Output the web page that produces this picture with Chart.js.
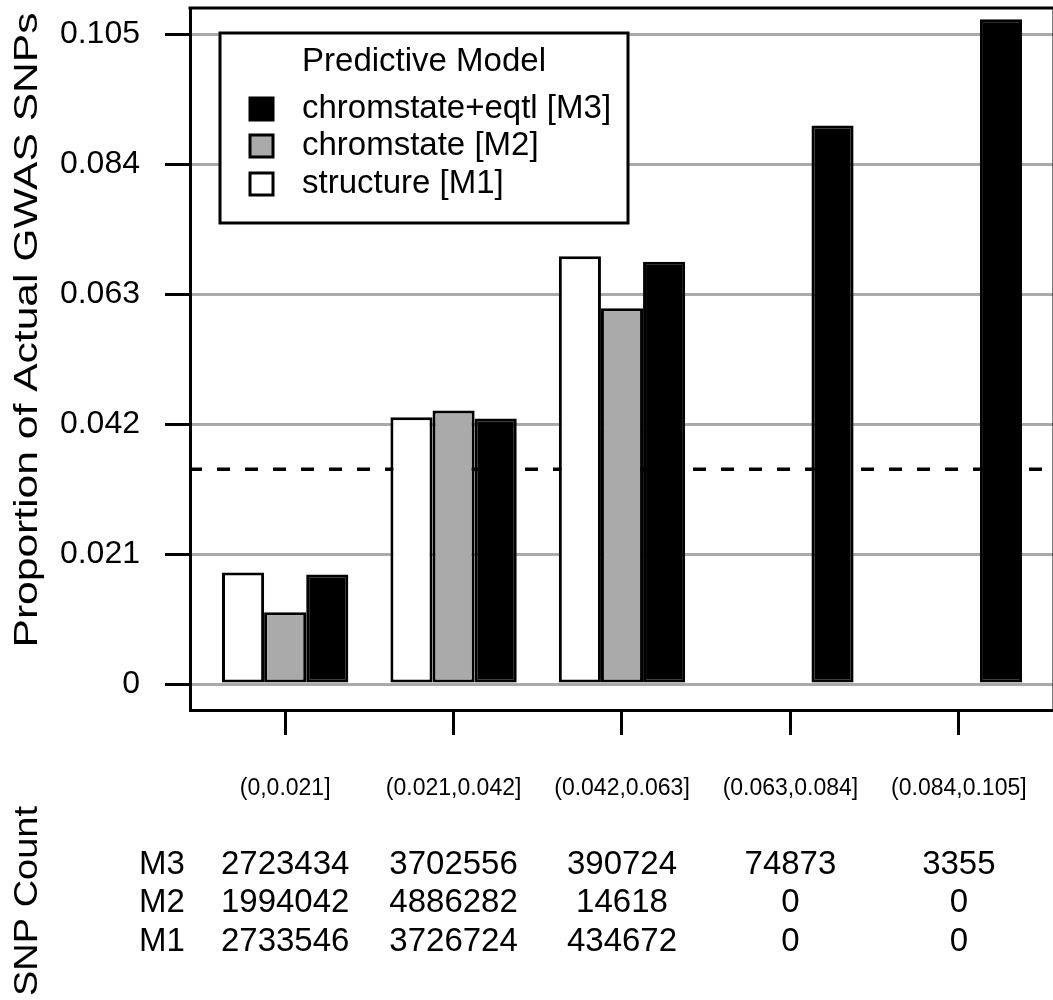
<!DOCTYPE html>
<html>
<head>
<meta charset="utf-8">
<script src="https://cdn.jsdelivr.net/npm/chart.js@4.4.1/dist/chart.umd.min.js"></script>
<style>
html,body{margin:0;padding:0;background:#fff;overflow:hidden;}
#wrap{position:relative;width:1056px;height:1000px;}
</style>
</head>
<body>
<div id="wrap"><canvas id="c" width="1056" height="1000"></canvas></div>
<script>
// ---- data ----
const categories = ['(0,0.021]', '(0.021,0.042]', '(0.042,0.063]', '(0.063,0.084]', '(0.084,0.105]'];
const structureM1 = [0.0180, 0.0431, 0.0691, null, null];
const chromstateM2 = [0.0116, 0.0442, 0.0607, null, null];
const chromEqtlM3 = [0.0177, 0.0429, 0.0682, 0.0902, 0.1074];
const seriesLabels = ['structure [M1]', 'chromstate [M2]', 'chromstate+eqtl [M3]'];
const yTickValues = [0, 0.021, 0.042, 0.063, 0.084, 0.105];
const yTickLabels = ['0', '0.021', '0.042', '0.063', '0.084', '0.105'];
const referenceLine = 0.0347;
const countRowLabels = ['M3', 'M2', 'M1'];
const countsM3 = [2723434, 3702556, 390724, 74873, 3355];
const countsM2 = [1994042, 4886282, 14618, 0, 0];
const countsM1 = [2733546, 3726724, 434672, 0, 0];
const legendTitle = 'Predictive Model';
const yTitle = 'Proportion of Actual GWAS SNPs';
const tableTitle = 'SNP Count';

// ---- styling ----
const FONT = "'Liberation Sans', Arial, Helvetica, sans-serif";
const fills = ['#ffffff', '#aaaaaa', '#000000'];

const toXY = arr => arr.map((v, i) => ({x: i, y: v}));

function drawStretchedVertical(ctx, text, baselineX, centerY, fontPx, targetLen) {
  ctx.save();
  ctx.font = fontPx + 'px ' + FONT;
  const w = ctx.measureText(text).width;
  ctx.translate(baselineX, centerY);
  ctx.rotate(-Math.PI / 2);
  ctx.scale(targetLen / w, 1);
  ctx.textAlign = 'center';
  ctx.textBaseline = 'alphabetic';
  ctx.fillStyle = '#000';
  ctx.fillText(text, 0, 0);
  ctx.restore();
}

const decor = {
  id: 'decor',
  beforeDatasetsDraw(chart) {
    const {ctx, chartArea: a, scales: {y}} = chart;
    const yy = y.getPixelForValue(referenceLine);
    ctx.save();
    ctx.strokeStyle = '#000';
    ctx.lineWidth = 3.5;
    ctx.setLineDash([13, 15]);
    ctx.lineDashOffset = 1;
    ctx.beginPath();
    ctx.moveTo(a.left, yy);
    ctx.lineTo(a.right, yy);
    ctx.stroke();
    ctx.restore();
  },
  afterDatasetsDraw(chart) {
    const {ctx, chartArea: a, scales: {x}} = chart;
    ctx.save();
    // top & right frame
    ctx.strokeStyle = '#000';
    ctx.lineWidth = 3;
    ctx.beginPath();
    ctx.moveTo(a.left - 1.5, a.top);
    ctx.lineTo(a.right, a.top);
    ctx.lineTo(a.right, a.bottom);
    ctx.stroke();

    // legend
    const lx = 220, ly = 33, lw = 408, lh = 190;
    ctx.fillStyle = '#fff';
    ctx.fillRect(lx, ly, lw, lh);
    ctx.lineWidth = 3;
    ctx.strokeStyle = '#000';
    ctx.strokeRect(lx, ly, lw, lh);
    ctx.fillStyle = '#000';
    ctx.font = '33px ' + FONT;
    ctx.textAlign = 'center';
    ctx.textBaseline = 'middle';
    ctx.fillText(legendTitle, 424, 62);
    const rows = [109, 146, 184];
    const ds = chart.data.datasets;
    const order = [2, 1, 0];
    order.forEach((di, k) => {
      const cy = rows[k];
      ctx.fillStyle = ds[di].backgroundColor;
      ctx.fillRect(250, cy - 11, 23, 22);
      ctx.strokeStyle = '#000';
      ctx.lineWidth = 3;
      ctx.strokeRect(250, cy - 11, 23, 22);
      ctx.fillStyle = '#000';
      ctx.textAlign = 'left';
      ctx.fillText(ds[di].label, 302, cy);
    });

    // SNP count table
    const tableRows = [countsM3, countsM2, countsM1];
    const rowY = [865, 903, 942];
    ctx.font = '33px ' + FONT;
    ctx.textAlign = 'center';
    ctx.textBaseline = 'middle';
    tableRows.forEach((vals, r) => {
      ctx.fillText(countRowLabels[r], 162, rowY[r]);
      vals.forEach((v, i) => {
        ctx.fillText(String(v), x.getPixelForValue(i), rowY[r]);
      });
    });
    ctx.restore();

    // rotated titles
    drawStretchedVertical(ctx, yTitle, 37, 330, 34, 635);
    drawStretchedVertical(ctx, tableTitle, 37, 901, 33, 190);
  }
};

new Chart(document.getElementById('c'), {
  type: 'bar',
  data: {
    datasets: [
      {label: seriesLabels[0], data: toXY(structureM1), backgroundColor: fills[0]},
      {label: seriesLabels[1], data: toXY(chromstateM2), backgroundColor: fills[1]},
      {label: seriesLabels[2], data: toXY(chromEqtlM3), backgroundColor: fills[2]}
    ]
  },
  options: {
    responsive: false,
    animation: false,
    devicePixelRatio: 1,
    layout: {padding: {top: 8, right: 2, bottom: 0, left: 0}},
    datasets: {
      bar: {
        borderColor: '#000',
        borderWidth: 3,
        borderSkipped: false,
        categoryPercentage: 0.75,
        barPercentage: 1.0
      }
    },
    plugins: {legend: {display: false}, tooltip: {enabled: false}, title: {display: false}},
    scales: {
      x: {
        type: 'linear',
        min: -0.565,
        max: 4.565,
        bounds: 'data',
        offset: false,
        afterBuildTicks: s => { s.ticks = categories.map((c, i) => ({value: i})); },
        afterFit: s => { s.height = 290; s.paddingLeft = 0; s.paddingRight = 0; },
        grid: {display: true, drawOnChartArea: false, drawTicks: true, tickLength: 25, tickColor: '#000', tickWidth: 3, offset: false},
        border: {display: true, color: '#000', width: 3},
        ticks: {
          autoSkip: false,
          maxRotation: 0,
          minRotation: 0,
          padding: 40,
          color: '#000',
          font: {family: FONT, size: 23},
          callback: (v, i) => categories[i]
        }
      },
      y: {
        type: 'linear',
        min: -0.0042,
        max: 0.1092,
        afterBuildTicks: s => { s.ticks = yTickValues.map(v => ({value: v})); },
        afterFit: s => { s.width = 190; s.paddingTop = 0; s.paddingBottom = 0; },
        grid: {color: '#aaaaaa', lineWidth: 3, drawTicks: true, tickLength: 25, tickColor: '#000', tickWidth: 3},
        border: {display: true, color: '#000', width: 3},
        ticks: {
          padding: 25,
          color: '#000',
          font: {family: FONT, size: 32},
          callback: (v, i) => yTickLabels[i]
        }
      }
    }
  },
  plugins: [decor]
});
</script>
</body>
</html>
